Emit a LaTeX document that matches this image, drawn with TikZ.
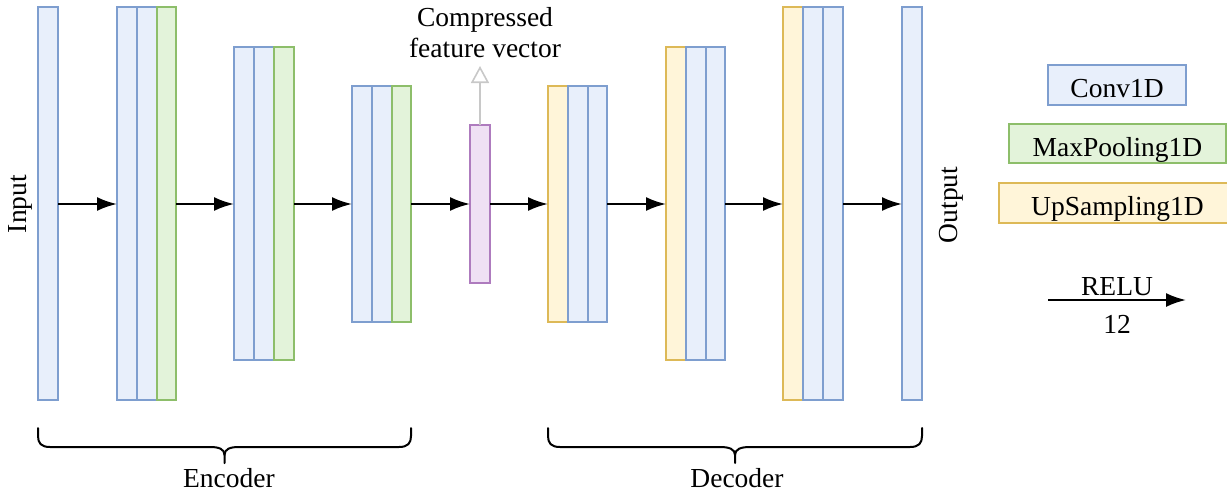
\documentclass[tikz,border=0pt]{standalone}
\usepackage{fontspec}
\setmainfont{Liberation Serif}
\usetikzlibrary{arrows.meta}
\definecolor{convfill}{HTML}{E8EFFB}
\definecolor{convline}{HTML}{7E9ECF}
\definecolor{poolfill}{HTML}{E3F3DA}
\definecolor{poolline}{HTML}{8DBE6A}
\definecolor{upfill}{HTML}{FFF5D9}
\definecolor{upline}{HTML}{DDB957}
\definecolor{cvfill}{HTML}{EFE0F4}
\definecolor{cvline}{HTML}{AE7BBE}
\definecolor{hintgray}{HTML}{C8C8C8}
\begin{document}
\begin{tikzpicture}[x=1pt,y=-1pt,
  font=\fontsize{27.5}{31}\selectfont,
  layer/.style={line width=2pt, inner sep=0pt, outer sep=0pt, anchor=north west},
  conv/.style={layer, draw=convline, fill=convfill},
  pool/.style={layer, draw=poolline, fill=poolfill},
  up/.style={layer, draw=upline, fill=upfill},
  cvec/.style={layer, draw=cvline, fill=cvfill},
  legend/.style={line width=2pt, inner sep=0pt, outer sep=0pt, text height=25pt, text depth=0pt},
  lbl/.style={inner sep=0pt, anchor=base},
  arr/.style={line width=2.2pt, -{Latex[length=20pt,width=14pt]}},
  hint/.style={line width=1.6pt, draw=hintgray, -{Triangle[open,length=17pt,width=18pt,line width=1.6pt]}},
  brace/.style={line width=2pt, line cap=round, line join=round}
]
\clip (0,0) rectangle (1227,493);
\useasboundingbox (0,0) rectangle (1227,493);

% Input
\node[conv, minimum width=20pt, minimum height=393pt] (in) at (38,7) {};
% Encoder block 1
\node[conv, minimum width=20pt, minimum height=393pt] (e1a) at (117,7) {};
\node[conv, minimum width=19.5pt, minimum height=393pt] (e1b) at (137,7) {};
\node[pool, minimum width=19.5pt, minimum height=393pt] (e1c) at (156.5,7) {};
% Encoder block 2
\node[conv, minimum width=20pt, minimum height=313pt] (e2a) at (234,47) {};
\node[conv, minimum width=20pt, minimum height=313pt] (e2b) at (254,47) {};
\node[pool, minimum width=20pt, minimum height=313pt] (e2c) at (274,47) {};
% Encoder block 3
\node[conv, minimum width=20pt, minimum height=236pt] (e3a) at (352,86) {};
\node[conv, minimum width=19.5pt, minimum height=236pt] (e3b) at (372,86) {};
\node[pool, minimum width=19.5pt, minimum height=236pt] (e3c) at (391.5,86) {};
% Compressed vector
\node[cvec, minimum width=20pt, minimum height=158pt] (cv) at (470,125) {};
% Decoder block 1
\node[up, minimum width=20pt, minimum height=236pt] (d1a) at (548,86) {};
\node[conv, minimum width=20pt, minimum height=236pt] (d1b) at (568,86) {};
\node[conv, minimum width=19pt, minimum height=236pt] (d1c) at (588,86) {};
% Decoder block 2
\node[up, minimum width=20pt, minimum height=313pt] (d2a) at (666,47) {};
\node[conv, minimum width=19.5pt, minimum height=313pt] (d2b) at (686,47) {};
\node[conv, minimum width=19.5pt, minimum height=313pt] (d2c) at (705.5,47) {};
% Decoder block 3
\node[up, minimum width=20pt, minimum height=393pt] (d3a) at (783,7) {};
\node[conv, minimum width=20pt, minimum height=393pt] (d3b) at (803,7) {};
\node[conv, minimum width=20pt, minimum height=393pt] (d3c) at (823,7) {};
% Output
\node[conv, minimum width=20pt, minimum height=393pt] (out) at (902,7) {};

% Main flow arrows (all on the axis through the compressed vector)
\draw[arr] (in.east |- cv.center) -- (e1a.west |- cv.center);
\draw[arr] (e1c.east |- cv.center) -- (e2a.west |- cv.center);
\draw[arr] (e2c.east |- cv.center) -- (e3a.west |- cv.center);
\draw[arr] (e3c.east |- cv.center) -- (cv.west);
\draw[arr] (cv.east) -- (d1a.west |- cv.center);
\draw[arr] (d1c.east |- cv.center) -- (d2a.west |- cv.center);
\draw[arr] (d2c.east |- cv.center) -- (d3a.west |- cv.center);
\draw[arr] (d3c.east |- cv.center) -- (out.west |- cv.center);

% Compressed feature vector hint
\coordinate (cvtip) at (480,66);
\draw[hint] (cv.north) -- (cvtip);
\node[lbl] (cvt1) at (485,26) {Compressed};
\node[lbl] (cvt2) at (485,57) {feature vector};

% Side labels
\node[inner sep=0pt, rotate=90] (inlbl) at (20,204) {Input};
\node[inner sep=0pt, rotate=90] (outlbl) at (951,205) {Output};

% Braces
\draw[brace] (38,428) -- (38,436) .. controls (38,443) and (41,447) .. (50,447)
  -- (210,447) .. controls (219,447) and (224.5,449) .. (224.5,455) -- (224.5,463);
\draw[brace] (224.5,455) .. controls (224.5,449) and (230,447) .. (239,447)
  -- (399,447) .. controls (408,447) and (411,443) .. (411,436) -- (411,428);
\node[lbl] (enc) at (229,487) {Encoder};

\draw[brace] (548,428) -- (548,436) .. controls (548,443) and (551,447) .. (560,447)
  -- (720,447) .. controls (729,447) and (735,449) .. (735,455) -- (735,463);
\draw[brace] (735,455) .. controls (735,449) and (741,447) .. (750,447)
  -- (910,447) .. controls (919,447) and (922,443) .. (922,436) -- (922,428);
\node[lbl] (dec) at (737,487) {Decoder};

% Legend
\node[legend, draw=convline, fill=convfill, minimum width=138pt, minimum height=40pt] (lgconv) at (1117,85) {Conv1D};
\node[legend, draw=poolline, fill=poolfill, minimum width=217pt, minimum height=39pt] (lgpool) at (1117.5,143.5) {MaxPooling1D};
\node[legend, draw=upline, fill=upfill, minimum width=237pt, minimum height=40pt] (lgup) at (1117.5,203) {UpSampling1D};

\coordinate (r1) at (1048,300);
\coordinate (r2) at (1186,300);
\draw[arr] (r1) -- (r2);
\node[lbl] (relu) at (1117,295) {RELU};
\node[lbl] (twelve) at (1117,333) {12};
\end{tikzpicture}
\end{document}
